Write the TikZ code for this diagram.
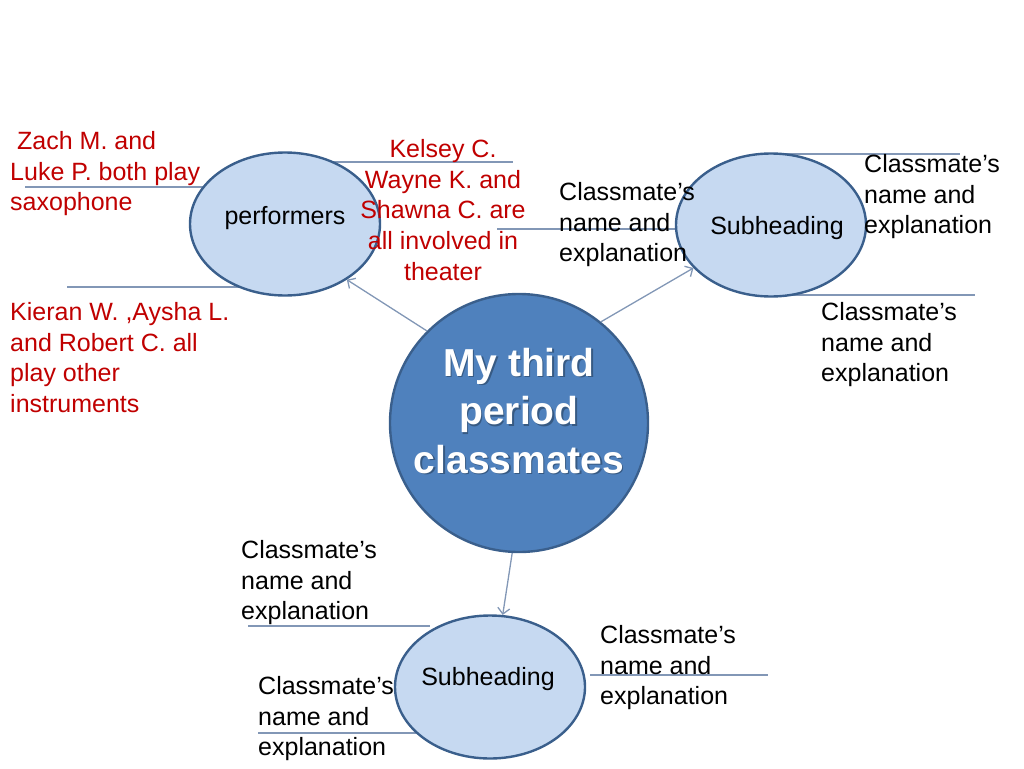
\documentclass[tikz,border=0pt]{standalone}
\usepackage{fontspec}
\setmainfont{Liberation Sans}
\usetikzlibrary{shapes.geometric,arrows.meta}
\definecolor{namered}{RGB}{192,0,0}
\definecolor{hubblue}{RGB}{79,129,189}
\definecolor{hubedge}{RGB}{58,95,140}
\definecolor{bubblefill}{RGB}{198,217,241}
\definecolor{leadgray}{RGB}{130,151,182}
\tikzset{
  bubble/.style={ellipse, draw=hubedge, line width=2.4pt, fill=bubblefill,
    minimum width=190pt, minimum height=143pt, inner sep=0pt,
    font=\fontsize{25}{30}\selectfont},
  names/.style={inner sep=0pt, align=left, text=namered,
    font=\fontsize{25}{30.7}\selectfont},
  blurb/.style={inner sep=0pt, align=left, anchor=north west,
    font=\fontsize{25}{30.7}\selectfont},
  leader/.style={leadgray, line width=1.6pt},
  link/.style={leadgray, line width=1.3pt, -{Straight Barb[length=6pt,width=12pt]}}
}

\begin{document}
\begin{tikzpicture}[x=1pt,y=-1pt]
    \useasboundingbox (0,0) rectangle (1024,768);

    % Leader lines under the notes
    \foreach \xa/\xb/\y in {25/205/187, 330/513/162, 67/248/287, 497/678/229,
                            780/960/154, 790/975/295, 248/430/626, 590/768/675, 258/440/733} {
        \draw[leader] (\xa,\y) -- (\xb,\y);
    }

    % Centre circle
    \node[circle, draw=hubedge, line width=2.4pt, fill=hubblue, minimum size=258pt,
          inner sep=0pt] (hub) at (519,423) {};
    \node[align=center, text=black, opacity=0.3, font=\fontsize{39}{48.5}\selectfont\bfseries]
        at ([xshift=1.5pt,yshift=10.5pt]hub.center) {My third\\period\\classmates};
    \node[align=center, text=white, font=\fontsize{39}{48.5}\selectfont\bfseries]
        (title) at ([yshift=12pt]hub.center) {My third\\period\\classmates};

    % Subheading bubbles
    \node[bubble] (perf) at (285,224) {};
    \node at (285,218) [font=\fontsize{25}{30}\selectfont] (perflabel) {performers};
    \node[bubble] (subR) at (771,225) {};
    \node at (777,228) [font=\fontsize{25}{30}\selectfont] (subRlabel) {Subheading};
    \node[bubble] (subB) at (490,687) {};
    \node at (488,679) [font=\fontsize{25}{30}\selectfont] (subBlabel) {Subheading};

    % Arrows from the centre
    \draw[link] (hub.135) -- (perf.318);
    \draw[link] (hub.51) -- (subR.209);
    \draw[link] (hub.267) -- (subB.80);

    % Notes for performers
    \node[names, anchor=north west] (zach) at (10,131)
        {\hspace*{7pt}Zach M. and\\Luke P. both play\\saxophone};
    \node[names, anchor=north, align=center] (kelsey) at (443,139)
        {Kelsey C.\\Wayne K. and\\Shawna C. are\\all involved in\\theater};
    \node[names, anchor=north west] (kieran) at (10,302)
        {Kieran W. ,Aysha L.\\and Robert C. all\\play other\\instruments};

    % Placeholder notes
    \node[blurb] (noteA) at (559,182) {Classmate’s\\name and\\explanation};
    \node[blurb] (noteB) at (864,154) {Classmate’s\\name and\\explanation};
    \node[blurb] (noteC) at (821,302) {Classmate’s\\name and\\explanation};
    \node[blurb] (noteD) at (241,540) {Classmate’s\\name and\\explanation};
    \node[blurb] (noteE) at (600,625) {Classmate’s\\name and\\explanation};
    \node[blurb] (noteF) at (258,676) {Classmate’s\\name and\\explanation};
\end{tikzpicture}
\end{document}
